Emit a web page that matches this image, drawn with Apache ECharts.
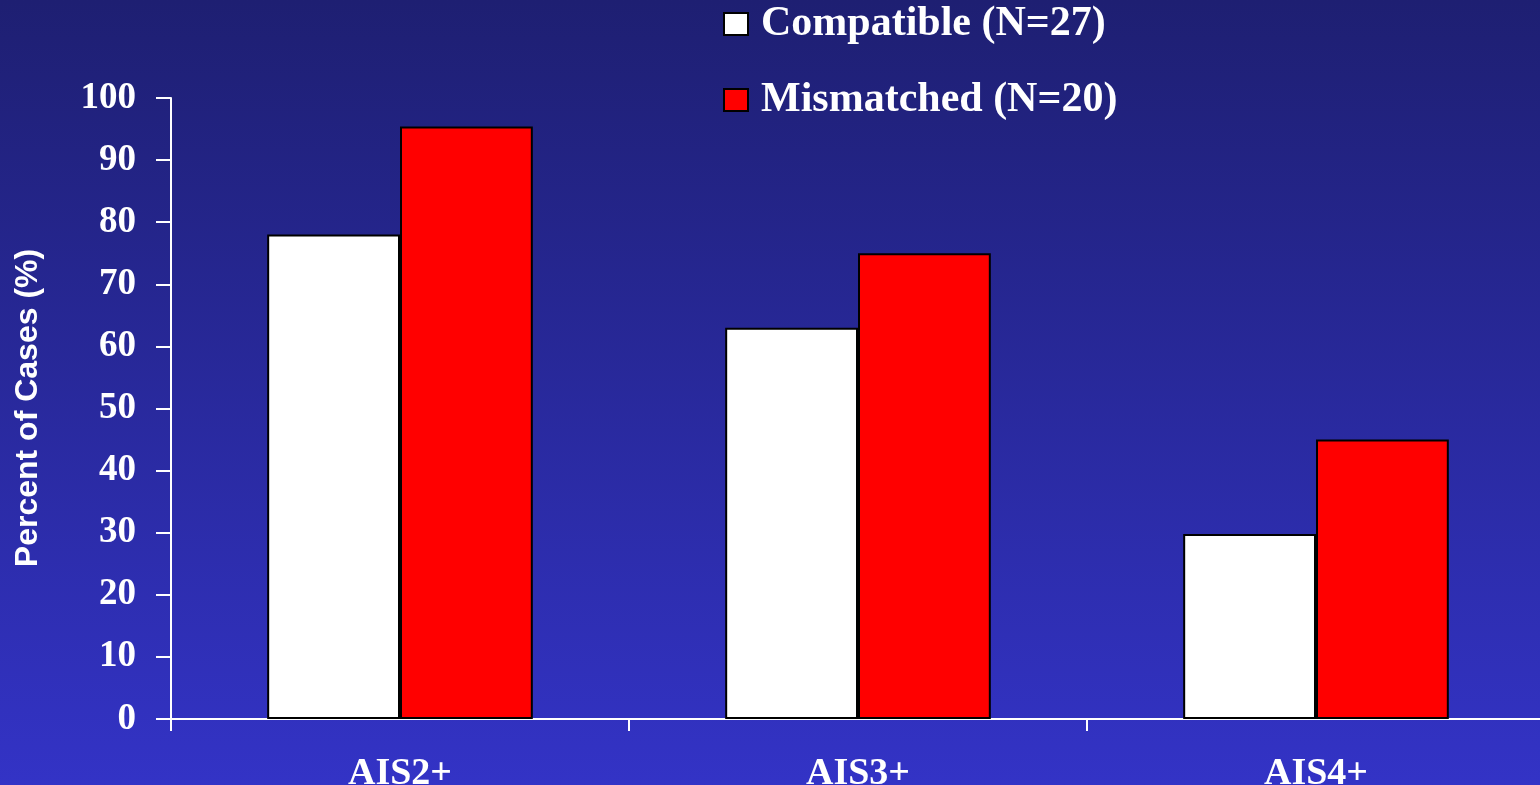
<!DOCTYPE html>
<html>
<head>
<meta charset="utf-8">
<script src="https://cdn.jsdelivr.net/npm/echarts@6/dist/echarts.min.js"></script>
<style>
  html, body { margin: 0; padding: 0; overflow: hidden; }
  #chart { width: 1540px; height: 785px; }
</style>
</head>
<body>
<div id="chart"></div>
<script>
// Injury severity categories and percent of cases per group
var categories = ['AIS2+', 'AIS3+', 'AIS4+'];
var compatible = [78, 63, 29.8];
var mismatched = [95.4, 75, 45];
var seriesNames = ['Compatible (N=27)', 'Mismatched (N=20)'];
var yAxisTitle = 'Percent of Cases (%)';

var serif = '"Liberation Serif", "DejaVu Serif", serif';
var sans = '"Liberation Sans", Arial, sans-serif';

var chart = echarts.init(document.getElementById('chart'), null, { width: 1540, height: 785 });
chart.setOption({
  backgroundColor: new echarts.graphic.LinearGradient(0, 0, 0, 1, [
    { offset: 0, color: '#1e1f72' },
    { offset: 1, color: '#3333c6' }
  ]),
  animation: false,
  legend: {
    orient: 'vertical',
    left: 718,
    top: -2,
    itemWidth: 24,
    itemHeight: 22,
    itemGap: 34,
    icon: 'rect',
    textStyle: { color: '#ffffff', fontFamily: serif, fontWeight: 'bold', fontSize: 42, padding: [0, 0, 0, 8] },
    itemStyle: { borderColor: '#000000', borderWidth: 2 },
    data: seriesNames
  },
  graphic: [{
    type: 'text',
    x: 28,
    y: 408,
    rotation: Math.PI / 2,
    style: {
      text: yAxisTitle,
      fill: '#ffffff',
      font: 'bold 32px ' + sans,
      align: 'center',
      verticalAlign: 'middle'
    }
  }],
  grid: { left: 171, top: 98, width: 1374, height: 621, containLabel: false, outerBoundsMode: 'none' },
  xAxis: {
    type: 'category',
    data: categories,
    axisLine: { lineStyle: { color: '#ffffff', width: 2 } },
    axisTick: { show: true, length: 12, lineStyle: { color: '#ffffff', width: 2 } },
    axisLabel: { color: '#ffffff', fontFamily: serif, fontWeight: 'bold', fontSize: 38, margin: 36 }
  },
  yAxis: {
    type: 'value',
    min: 0,
    max: 100,
    interval: 10,
    splitLine: { show: false },
    axisLine: { show: true, lineStyle: { color: '#ffffff', width: 2 } },
    axisTick: { show: true, length: 15, lineStyle: { color: '#ffffff', width: 2 } },
    axisLabel: { color: '#ffffff', fontFamily: serif, fontWeight: 'bold', fontSize: 37, margin: 35 }
  },
  series: [
    {
      name: seriesNames[0],
      type: 'bar',
      data: compatible,
      barGap: '0%',
      barCategoryGap: '42%',
      itemStyle: { color: '#ffffff', borderColor: '#000000', borderWidth: 2 }
    },
    {
      name: seriesNames[1],
      type: 'bar',
      data: mismatched,
      itemStyle: { color: '#ff0000', borderColor: '#000000', borderWidth: 2 }
    }
  ]
});
</script>
</body>
</html>
